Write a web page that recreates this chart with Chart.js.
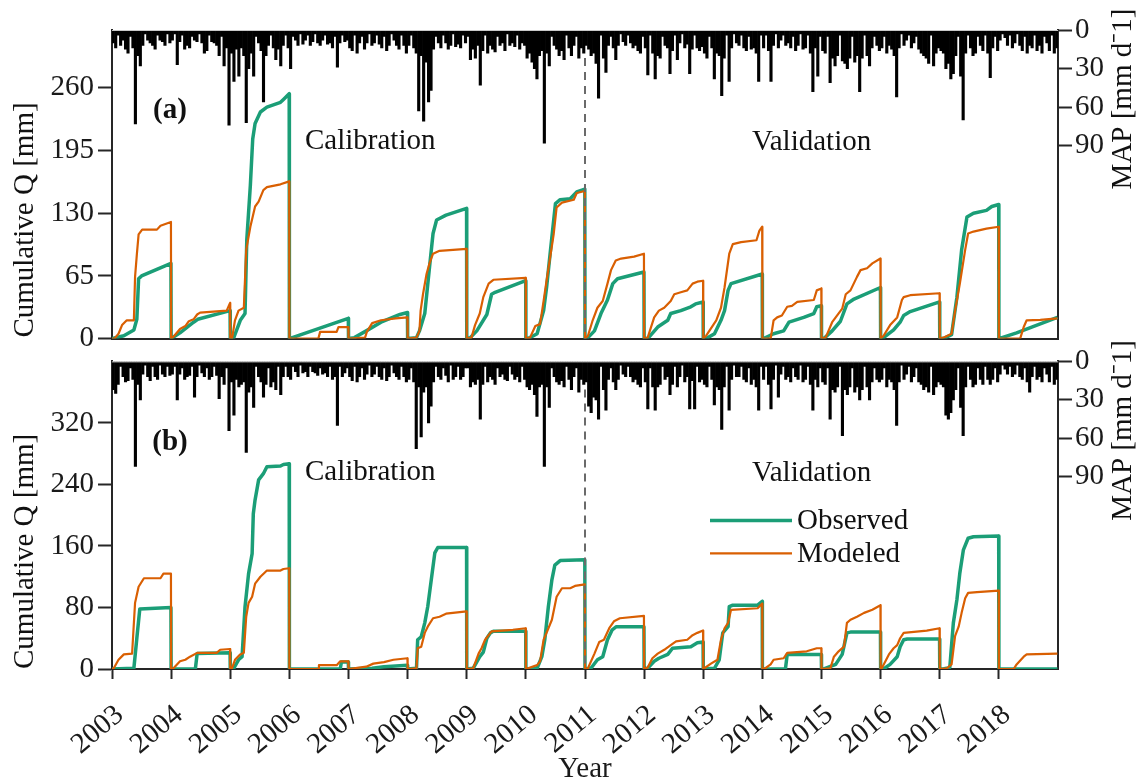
<!DOCTYPE html>
<html>
<head>
<meta charset="utf-8">
<script src="https://cdn.jsdelivr.net/npm/chart.js@4.4.1/dist/chart.umd.min.js"></script>
<style>
  html, body { margin: 0; padding: 0; background: #fff; }
  #wrap { position: relative; width: 1141px; height: 778px; }
  canvas { position: absolute; left: 0; }
  #chartA { top: 0; }
  #chartB { top: 340px; }
</style>
</head>
<body>
<div id="wrap">
  <canvas id="chartA" width="1141" height="360"></canvas>
  <canvas id="chartB" width="1141" height="438"></canvas>
</div>
<script>
// years on the x axis (tick labels)
const years = [2003, 2004, 2005, 2006, 2007, 2008, 2009, 2010, 2011, 2012, 2013, 2014, 2015, 2016, 2017, 2018];
const qTicksA = [0, 65, 130, 195, 260];
const qTicksB = [0, 80, 160, 240, 320];
const mapTicks = [0, 30, 60, 90];

// daily rainfall, max per half month [mm/d], one row per year
const precipA = [
  [10,14,4,12,8,15,18,5,14,73,20,28,12,3,8,10,12,15,4,8,9,12,3,10],
  [8,3,27,9,4,15,12,14,5,8,9,3,10,18,16,4,9,10,12,20,5,28,14,74],
  [18,40,15,36,14,20,72,30,18,36,5,10,16,56,20,12,4,14,23,15,28,12,4,14],
  [30,5,8,12,3,11,8,4,12,9,3,10,12,8,4,11,10,14,5,29,10,4,9,8],
  [14,16,4,18,10,5,15,10,3,12,10,4,11,14,5,16,12,3,8,12,15,4,12,18],
  [12,4,14,18,63,20,71,25,56,47,15,5,10,14,4,10,15,12,3,13,11,14,4,10],
  [5,23,15,22,12,43,16,4,18,12,15,17,5,12,10,16,3,12,10,13,4,15,10,12],
  [22,18,25,30,38,20,16,88,18,28,5,12,15,20,16,23,4,14,20,12,5,22,14,18],
  [12,15,20,18,26,53,4,22,33,12,5,14,23,12,3,9,12,4,10,14,12,16,18,5],
  [14,35,4,18,38,20,22,5,12,14,34,16,4,23,10,3,14,11,34,15,4,14,16,13],
  [18,22,5,14,38,18,20,51,22,4,40,14,3,10,12,4,14,16,5,15,14,18,40,4],
  [14,4,16,40,12,3,14,8,4,12,10,14,5,16,12,3,15,14,4,18,48,14,36,5],
  [16,18,5,41,22,28,20,4,24,26,30,22,5,25,20,48,22,4,20,28,14,5,12,16],
  [14,5,18,12,15,20,52,14,3,12,8,4,14,10,5,15,18,20,22,26,4,28,18,14],
  [16,18,30,26,38,34,20,5,36,70,18,4,14,20,18,5,12,16,4,18,37,14,5,16],
  [8,3,6,12,4,14,10,3,12,16,5,18,12,14,4,16,12,18,5,10,16,4,18,14]
];
const precipB = [
  [22,25,18,4,12,16,15,5,14,82,18,30,10,3,12,15,4,12,14,3,10,12,4,11],
  [10,4,30,10,5,14,12,11,4,28,12,3,9,12,5,14,12,4,11,29,12,18,5,54],
  [16,42,14,20,18,16,71,24,20,36,4,12,16,28,18,5,20,16,22,4,26,12,4,12],
  [14,4,8,12,3,9,8,12,4,8,9,11,5,10,9,12,4,14,12,50,4,12,9,5],
  [12,15,4,16,12,5,14,10,3,12,10,4,12,14,5,15,12,3,9,12,14,4,12,16],
  [14,5,16,68,20,59,24,20,48,35,16,4,12,14,5,11,16,3,14,12,4,14,12,5],
  [5,20,16,18,14,45,18,4,16,12,14,18,5,12,10,14,15,4,10,14,12,16,4,14],
  [20,22,18,26,43,20,18,82,20,36,5,12,16,18,15,20,4,14,22,12,5,24,14,18],
  [16,35,40,28,30,45,4,22,38,14,5,16,22,14,3,10,12,4,12,16,14,18,20,5],
  [16,37,5,20,38,20,18,4,14,12,26,18,4,20,12,3,16,12,37,15,37,4,16,14],
  [18,20,4,14,34,20,22,53,20,4,38,14,3,12,12,4,14,16,5,18,14,20,38,4],
  [14,4,18,37,14,3,28,10,4,14,12,16,5,12,14,3,16,14,4,18,38,14,20,5],
  [16,18,5,45,22,24,20,4,58,22,26,20,5,24,20,30,22,4,20,30,16,5,14,16],
  [14,5,20,14,16,22,50,16,3,14,10,4,16,12,5,16,18,22,20,24,4,26,20,16],
  [18,20,42,45,40,30,22,5,36,58,20,4,14,20,18,5,14,18,4,14,18,14,5,16],
  [10,3,6,10,4,12,10,3,12,14,5,16,24,12,4,14,12,16,5,10,16,4,18,14]
];

// cumulative discharge [time (decimal year), Q mm], resets every 1 Jan
const obsA = [
  [2003,0],[2003.2,3],[2003.37,9],[2003.42,20],[2003.45,62],[2003.5,65],[2003.997,78],
  [2004,0],[2004.15,6],[2004.38,17],[2004.45,20],[2004.997,29],
  [2005,0],[2005.06,1],[2005.17,19],[2005.25,26],[2005.28,103],[2005.34,159],[2005.38,207],[2005.42,223],[2005.51,235],[2005.62,240],[2005.85,245],[2005.9,248],[2005.997,254],
  [2006,0],[2006.997,21],
  [2007,0],[2007.1,1],[2007.3,8],[2007.55,17],[2007.87,25],[2007.997,27],
  [2008,0],[2008.15,1],[2008.2,8],[2008.29,26],[2008.37,74],[2008.43,109],[2008.49,123],[2008.65,128],[2008.997,135],
  [2009,0],[2009.06,1],[2009.17,8],[2009.34,25],[2009.42,46],[2009.48,48],[2009.997,60],
  [2010,0],[2010.07,1],[2010.19,5],[2010.3,29],[2010.35,53],[2010.41,88],[2010.5,140],[2010.58,144],[2010.75,145],[2010.86,152],[2010.997,155],
  [2011,0],[2011.05,1],[2011.16,8],[2011.27,26],[2011.38,40],[2011.47,57],[2011.55,62],[2011.997,69],
  [2012,0],[2012.06,0],[2012.23,12],[2012.4,19],[2012.45,26],[2012.62,29],[2012.79,33],[2012.87,36],[2012.997,38],
  [2013,0],[2013.05,0],[2013.19,5],[2013.3,19],[2013.36,29],[2013.42,50],[2013.47,57],[2013.997,67],
  [2014,0],[2014.02,0],[2014.19,5],[2014.36,8],[2014.45,17],[2014.7,22],[2014.87,26],[2014.92,33],[2014.997,34],
  [2015,0],[2015.04,0],[2015.18,8],[2015.32,18],[2015.43,36],[2015.55,41],[2015.997,53],
  [2016,0],[2016.05,1],[2016.22,9],[2016.33,17],[2016.39,24],[2016.5,28],[2016.997,38],
  [2017,0],[2017.06,0],[2017.2,4],[2017.29,43],[2017.37,92],[2017.46,126],[2017.57,130],[2017.79,133],[2017.88,137],[2017.997,139],
  [2018,0],[2018.3,6],[2018.6,13],[2018.99,22]
];
const modA = [
  [2003,0],[2003.04,0],[2003.11,5],[2003.17,14],[2003.25,19],[2003.37,19],[2003.39,64],[2003.42,87],[2003.45,108],[2003.51,113],[2003.76,113],[2003.82,117],[2003.997,121],
  [2004,0],[2004.04,2],[2004.15,10],[2004.24,13],[2004.3,18],[2004.38,20],[2004.44,25],[2004.49,27],[2004.94,29],[2004.997,37],
  [2005,0],[2005.03,0],[2005.08,19],[2005.14,29],[2005.23,32],[2005.27,92],[2005.34,116],[2005.42,137],[2005.48,142],[2005.56,154],[2005.62,157],[2005.85,160],[2005.997,163],
  [2006,0],[2006.49,0],[2006.52,7],[2006.8,7],[2006.83,12],[2006.997,12],
  [2007,0],[2007.28,1],[2007.31,7],[2007.4,16],[2007.55,19],[2007.8,21],[2007.997,22],
  [2008,0],[2008.15,1],[2008.2,8],[2008.22,29],[2008.26,46],[2008.32,67],[2008.37,78],[2008.43,88],[2008.54,91],[2008.997,93],
  [2009,0],[2009.08,1],[2009.14,14],[2009.22,26],[2009.28,43],[2009.37,57],[2009.45,61],[2009.997,63],
  [2010,0],[2010.07,1],[2010.16,13],[2010.24,15],[2010.3,39],[2010.35,60],[2010.47,108],[2010.52,136],[2010.61,141],[2010.81,144],[2010.86,151],[2010.997,153],
  [2011,0],[2011.05,3],[2011.13,19],[2011.21,32],[2011.3,39],[2011.38,57],[2011.44,71],[2011.52,81],[2011.61,83],[2011.83,85],[2011.997,88],
  [2012,0],[2012.06,1],[2012.17,22],[2012.25,29],[2012.34,32],[2012.45,39],[2012.51,46],[2012.62,48],[2012.73,50],[2012.82,57],[2012.9,59],[2012.997,60],
  [2013,0],[2013.05,3],[2013.22,19],[2013.3,32],[2013.36,53],[2013.44,88],[2013.5,98],[2013.64,100],[2013.9,102],[2013.95,112],[2013.997,116],
  [2014,0],[2014.14,0],[2014.19,19],[2014.25,22],[2014.33,24],[2014.42,33],[2014.5,34],[2014.59,38],[2014.87,40],[2014.92,50],[2014.997,52],
  [2015,0],[2015.07,1],[2015.18,17],[2015.24,22],[2015.35,31],[2015.41,46],[2015.49,50],[2015.6,64],[2015.66,71],[2015.77,73],[2015.86,78],[2015.997,83],
  [2016,0],[2016.05,3],[2016.16,14],[2016.28,22],[2016.36,40],[2016.39,43],[2016.5,45],[2016.997,47],
  [2017,0],[2017.06,1],[2017.2,5],[2017.26,29],[2017.34,57],[2017.43,92],[2017.48,109],[2017.57,111],[2017.79,114],[2017.997,116],
  [2018,0],[2018.36,0],[2018.42,12],[2018.47,19],[2018.7,19.5],[2018.99,21]
];
const obsB = [
  [2003,0],[2003.37,1],[2003.42,40],[2003.47,78],[2003.997,80],
  [2004,0],[2004.41,0],[2004.44,20],[2004.997,21],
  [2005,0],[2005.06,1],[2005.14,12],[2005.2,16],[2005.25,81],[2005.31,124],[2005.37,150],[2005.39,202],[2005.42,220],[2005.48,246],[2005.56,254],[2005.62,263],[2005.85,264],[2005.9,266],[2005.997,267],
  [2006,0],[2006.86,0],[2006.88,9],[2006.997,9],
  [2007,0],[2007.4,1],[2007.6,3],[2007.997,5],
  [2008,0],[2008.15,1],[2008.17,38],[2008.23,42],[2008.29,60],[2008.34,81],[2008.4,116],[2008.46,151],[2008.51,158],[2008.997,158],
  [2009,0],[2009.11,1],[2009.22,16],[2009.28,22],[2009.34,40],[2009.4,47],[2009.45,49],[2009.997,49],
  [2010,0],[2010.19,1],[2010.27,16],[2010.32,38],[2010.38,81],[2010.44,116],[2010.49,135],[2010.58,141],[2010.997,142],
  [2011,0],[2011.1,1],[2011.21,12],[2011.3,16],[2011.38,38],[2011.46,51],[2011.53,55],[2011.997,55],
  [2012,0],[2012.06,1],[2012.17,10],[2012.25,14],[2012.4,19],[2012.48,27],[2012.79,29],[2012.9,34],[2012.997,35],
  [2013,0],[2013.19,1],[2013.27,12],[2013.33,47],[2013.42,55],[2013.44,81],[2013.5,83],[2013.92,83],[2013.997,88],
  [2014,0],[2014.39,0],[2014.42,19],[2014.997,19],
  [2015,0],[2015.04,0],[2015.24,6],[2015.35,19],[2015.43,47],[2015.49,48],[2015.997,48],
  [2016,0],[2016.05,0],[2016.16,6],[2016.28,16],[2016.33,29],[2016.39,38],[2016.45,39],[2016.997,39],
  [2017,0],[2017.06,0],[2017.17,2],[2017.23,60],[2017.29,90],[2017.34,125],[2017.4,155],[2017.48,170],[2017.57,172],[2017.997,173],
  [2018,0],[2018.99,0]
];
const modB = [
  [2003,0],[2003.03,1],[2003.11,12],[2003.2,19],[2003.34,20],[2003.39,86],[2003.45,107],[2003.54,118],[2003.82,118],[2003.87,124],[2003.997,124],
  [2004,0],[2004.04,1],[2004.15,10],[2004.24,12],[2004.32,16],[2004.44,21],[2004.77,21],[2004.83,25],[2004.997,26],
  [2005,0],[2005.03,1],[2005.08,12],[2005.17,19],[2005.23,21],[2005.27,68],[2005.31,86],[2005.37,94],[2005.42,111],[2005.51,120],[2005.62,128],[2005.85,128],[2005.9,130],[2005.997,131],
  [2006,0],[2006.49,0],[2006.5,5],[2006.8,5],[2006.86,10],[2006.997,10],
  [2007,0],[2007.3,3],[2007.42,7],[2007.6,9],[2007.76,12],[2007.997,14],
  [2008,0],[2008.15,1],[2008.17,27],[2008.23,29],[2008.29,47],[2008.34,55],[2008.43,66],[2008.54,68],[2008.65,72],[2008.997,75],
  [2009,0],[2009.11,1],[2009.2,20],[2009.25,27],[2009.31,38],[2009.37,44],[2009.42,49],[2009.78,51],[2009.997,53],
  [2010,0],[2010.19,5],[2010.24,10],[2010.3,38],[2010.35,47],[2010.44,64],[2010.52,94],[2010.61,105],[2010.75,105],[2010.83,108],[2010.997,110],
  [2011,0],[2011.05,1],[2011.16,20],[2011.24,35],[2011.32,38],[2011.41,53],[2011.49,62],[2011.59,66],[2011.997,69],
  [2012,0],[2012.06,2],[2012.14,14],[2012.23,20],[2012.34,25],[2012.45,31],[2012.54,36],[2012.73,38],[2012.82,44],[2012.9,47],[2012.997,50],
  [2013,0],[2013.13,7],[2013.24,12],[2013.3,38],[2013.36,53],[2013.42,60],[2013.47,77],[2013.92,79],[2013.997,85],
  [2014,0],[2014.05,1],[2014.14,6],[2014.19,12],[2014.36,14],[2014.42,21],[2014.75,23],[2014.92,27],[2014.997,27],
  [2015,0],[2015.15,1],[2015.21,16],[2015.29,23],[2015.38,29],[2015.43,60],[2015.49,64],[2015.6,68],[2015.72,73],[2015.86,77],[2015.997,83],
  [2016,0],[2016.02,1],[2016.14,19],[2016.22,27],[2016.28,31],[2016.33,40],[2016.39,47],[2016.78,50],[2016.997,53],
  [2017,0],[2017.12,1],[2017.2,6],[2017.26,43],[2017.32,55],[2017.37,73],[2017.43,92],[2017.48,99],[2017.63,100],[2017.997,102],
  [2018,0],[2018.25,0],[2018.3,6],[2018.42,16],[2018.47,19],[2018.99,20]
];

const GREEN = '#1b9e77';
const ORANGE = '#d95f02';
const AXIS = '#262626';
const SERIF = "'Liberation Serif', 'Times New Roman', serif";

Chart.defaults.font.family = SERIF;
Chart.defaults.font.size = 29;
Chart.defaults.color = '#1a1a1a';

function pts(pairs) {
  return pairs.map(p => ({ x: p[0], y: p[1] }));
}
function bars(rows) {
  const out = [];
  rows.forEach((row, i) => row.forEach((v, k) => out.push({ x: years[i] + (k + 0.5) / row.length, y: v })));
  return out;
}

// labels, titles, split line and legend
const decor = {
  id: 'decor',
  afterDatasetsDraw(chart, args, o) {
    const { ctx, chartArea: a, scales: { x } } = chart;
    ctx.save();
    ctx.strokeStyle = '#c8c8c8';
    ctx.lineWidth = 1;
    ctx.beginPath();
    ctx.moveTo(a.left, a.top + 0.5);
    ctx.lineTo(a.right, a.top + 0.5);
    ctx.stroke();

    const xs = x.getPixelForValue(2011);
    ctx.strokeStyle = '#6a6a6a';
    ctx.lineWidth = 2;
    ctx.setLineDash([8, 6]);
    ctx.beginPath();
    ctx.moveTo(xs, a.top + 28);
    ctx.lineTo(xs, a.bottom);
    ctx.stroke();
    ctx.setLineDash([]);

    ctx.fillStyle = '#111';
    ctx.font = 'bold 29px ' + SERIF;
    ctx.textAlign = 'center';
    ctx.textBaseline = 'middle';
    ctx.fillText(o.tag, a.left + 58, a.top + 81);

    ctx.font = '29px ' + SERIF;
    ctx.textAlign = 'left';
    ctx.textBaseline = 'alphabetic';
    ctx.fillText('Calibration', a.left + 193, a.top + 119);
    ctx.fillText('Validation', a.left + 640, a.top + 120);

    ctx.textAlign = 'center';
    ctx.textBaseline = 'middle';
    ctx.save();
    ctx.translate(25, a.top + 190);
    ctx.rotate(-Math.PI / 2);
    ctx.fillText('Cumulative Q [mm]', 0, 0);
    ctx.restore();
    ctx.save();
    ctx.translate(1123, a.top + 69);
    ctx.rotate(-Math.PI / 2);
    ctx.fillText('MAP [mm d\u207B1]', 0, 0);
    ctx.restore();

    if (o.legend) {
      const items = [['Observed', GREEN, 3.5, 159], ['Modeled', ORANGE, 2.2, 192]];
      ctx.textAlign = 'left';
      items.forEach(([name, col, w, dy]) => {
        ctx.strokeStyle = col;
        ctx.lineWidth = w;
        ctx.beginPath();
        ctx.moveTo(a.left + 598, a.top + dy);
        ctx.lineTo(a.left + 680, a.top + dy);
        ctx.stroke();
        ctx.fillText(name, a.left + 685, a.top + dy + 1);
      });
    }
    ctx.restore();
  }
};

function panel(id, cfg) {
  return new Chart(document.getElementById(id), {
    type: 'bar',
    data: {
      datasets: [
        { type: 'line', label: 'Modeled', data: pts(cfg.mod), borderColor: ORANGE, borderWidth: 2.2,
          pointRadius: 0, borderJoinStyle: 'round', yAxisID: 'q', order: 0 },
        { type: 'line', label: 'Observed', data: pts(cfg.obs), borderColor: GREEN, borderWidth: 3.5,
          pointRadius: 0, borderJoinStyle: 'round', yAxisID: 'q', order: 1 },
        { type: 'bar', label: 'MAP', data: bars(cfg.precip), backgroundColor: '#000',
          barPercentage: 1, categoryPercentage: 1, yAxisID: 'p', order: 2 }
      ]
    },
    options: {
      responsive: false,
      animation: false,
      events: [],
      layout: { padding: { top: cfg.padTop, left: 0, right: 0, bottom: 0 } },
      plugins: {
        legend: { display: false },
        tooltip: { enabled: false },
        decor: { tag: cfg.tag, legend: cfg.legend }
      },
      scales: {
        x: {
          type: 'linear', position: 'bottom', min: 2003, max: 2019, offset: false,
          afterBuildTicks: s => { s.ticks = years.map(v => ({ value: v })); },
          afterFit: s => { s.height = cfg.xHeight; },
          ticks: { display: cfg.xLabels, autoSkip: false, minRotation: 40, maxRotation: 40, padding: 19,
                   labelOffset: 8, callback: v => String(v) },
          grid: { display: true, offset: false, drawOnChartArea: false, drawTicks: cfg.xLabels,
                  tickLength: 10, tickColor: AXIS, tickWidth: 2 },
          border: { color: AXIS, width: 2 },
          title: { display: cfg.xLabels, text: 'Year', padding: { top: 0, bottom: -9 } }
        },
        q: {
          type: 'linear', position: 'left', min: 0, max: cfg.qMax,
          afterBuildTicks: s => { s.ticks = cfg.qTicks.map(v => ({ value: v })); },
          afterFit: s => { s.width = 112; },
          ticks: { padding: 4 },
          grid: { drawOnChartArea: false, tickLength: 14, tickColor: AXIS, tickWidth: 2 },
          border: { color: AXIS, width: 2 }
        },
        p: {
          type: 'linear', position: 'right', reverse: true, min: 0, max: 240,
          afterBuildTicks: s => { s.ticks = mapTicks.map(v => ({ value: v })); },
          afterFit: s => { s.width = 83; },
          ticks: { padding: 3 },
          grid: { drawOnChartArea: false, tickLength: 14, tickColor: AXIS, tickWidth: 2 },
          border: { color: AXIS, width: 2 }
        }
      }
    },
    plugins: [decor]
  });
}

panel('chartA', { obs: obsA, mod: modA, precip: precipA, qMax: 320, qTicks: qTicksA,
                  tag: '(a)', legend: false, padTop: 30, xHeight: 7, xLabels: false });
panel('chartB', { obs: obsB, mod: modB, precip: precipB, qMax: 400, qTicks: qTicksB,
                  tag: '(b)', legend: true, padTop: 16, xHeight: 109, xLabels: true });
</script>
</body>
</html>
